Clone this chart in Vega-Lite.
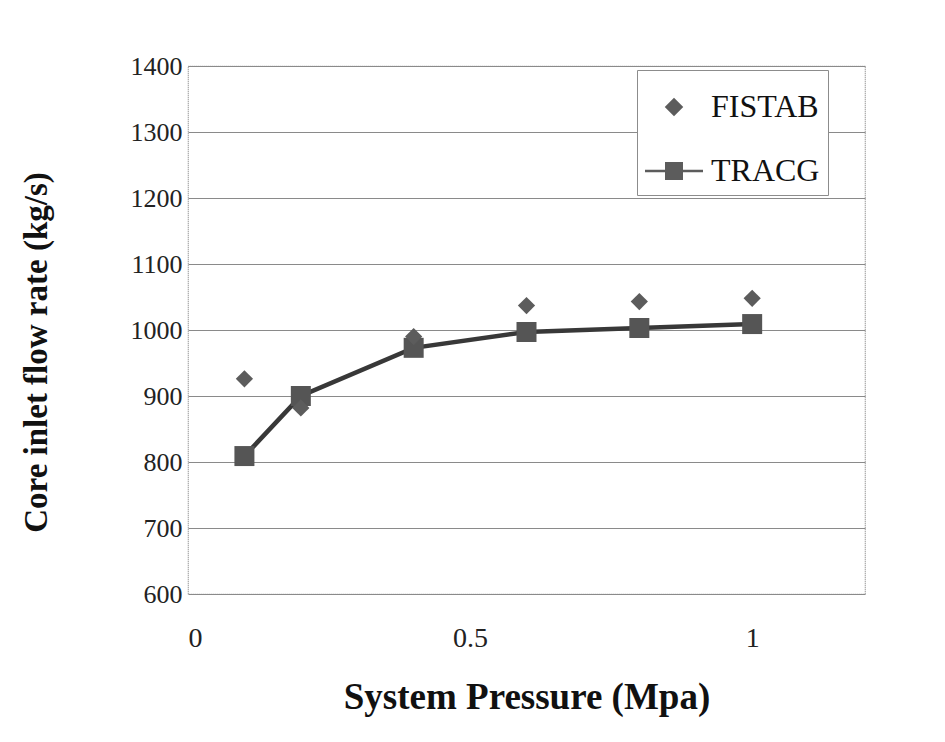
{
  "$schema": "https://vega.github.io/schema/vega-lite/v6.json",
  "width": 677,
  "height": 528,
  "autosize": {"type": "none"},
  "padding": {"left": 188, "top": 66, "right": 80, "bottom": 148},
  "background": "white",
  "config": {
    "view": {"stroke": "#8c8c8c", "strokeDash": [1, 1], "strokeWidth": 1.2},
    "font": "Liberation Serif",
    "axis": {"domain": false, "ticks": false, "labelFont": "Liberation Serif", "titleFont": "Liberation Serif", "labelColor": "#222", "titleColor": "#111", "titleFontWeight": "bold"}
  },
  "data": {
    "values": [
      {"p": 0.1, "flow": 926, "series": "FISTAB"},
      {"p": 0.2, "flow": 882, "series": "FISTAB"},
      {"p": 0.4, "flow": 990, "series": "FISTAB"},
      {"p": 0.6, "flow": 1037, "series": "FISTAB"},
      {"p": 0.8, "flow": 1043, "series": "FISTAB"},
      {"p": 1.0, "flow": 1048, "series": "FISTAB"},
      {"p": 0.1, "flow": 809, "series": "TRACG"},
      {"p": 0.2, "flow": 900, "series": "TRACG"},
      {"p": 0.4, "flow": 973, "series": "TRACG"},
      {"p": 0.6, "flow": 997, "series": "TRACG"},
      {"p": 0.8, "flow": 1003, "series": "TRACG"},
      {"p": 1.0, "flow": 1009, "series": "TRACG"}
    ]
  },
  "encoding": {
    "x": {"field": "p", "type": "quantitative", "title": "System Pressure (Mpa)",
      "scale": {"domain": [0, 1.2], "nice": false, "zero": false},
      "axis": {"values": [0, 0.5, 1], "grid": false, "labelFontSize": 28, "titleFontSize": 37, "labelPadding": 30, "titlePadding": 27, "format": "~g"}},
    "y": {"field": "flow", "type": "quantitative", "title": "Core inlet flow rate (kg/s)",
      "scale": {"domain": [600, 1400], "nice": false, "zero": false},
      "axis": {"values": [600, 700, 800, 900, 1000, 1100, 1200, 1300, 1400], "format": "d", "grid": true, "gridColor": "#8a8a8a", "gridWidth": 1.2, "labelFontSize": 26, "titleFontSize": 33, "labelPadding": 6, "titlePadding": 77, "titleY": 286}}
  },
  "layer": [
    {
      "transform": [{"filter": "datum.series === 'TRACG'"}],
      "mark": {"type": "line", "color": "#383838", "strokeWidth": 4.5}
    },
    {
      "transform": [{"filter": "datum.series === 'TRACG'"}],
      "mark": {"type": "point", "shape": "square", "filled": true, "color": "#555555", "opacity": 1, "size": 400}
    },
    {
      "transform": [{"filter": "datum.series === 'FISTAB'"}],
      "mark": {"type": "point", "filled": true, "color": "#5c5c5c", "opacity": 1, "size": 2900},
      "encoding": {
        "shape": {"field": "series", "type": "nominal",
          "scale": {"domain": ["FISTAB", "TRACG"], "range": ["M0,-0.32L0.32,0L0,0.32L-0.32,0Z", "M-1,-0.045H1V0.045H-1Z M-0.31,-0.31H0.31V0.31H-0.31Z"]},
          "legend": {"title": null, "orient": "none", "legendX": 449, "legendY": 4, "direction": "vertical",
            "symbolSize": 3364, "symbolFillColor": "#4a4a4a", "symbolStrokeWidth": 0, "symbolOpacity": 1,
            "labelFont": "Liberation Serif", "labelFontSize": 32, "labelColor": "#111", "labelOffset": 8,
            "rowPadding": 19, "padding": 8, "strokeColor": "#8c8c8c", "fillColor": "white"}}
      }
    }
  ]
}
